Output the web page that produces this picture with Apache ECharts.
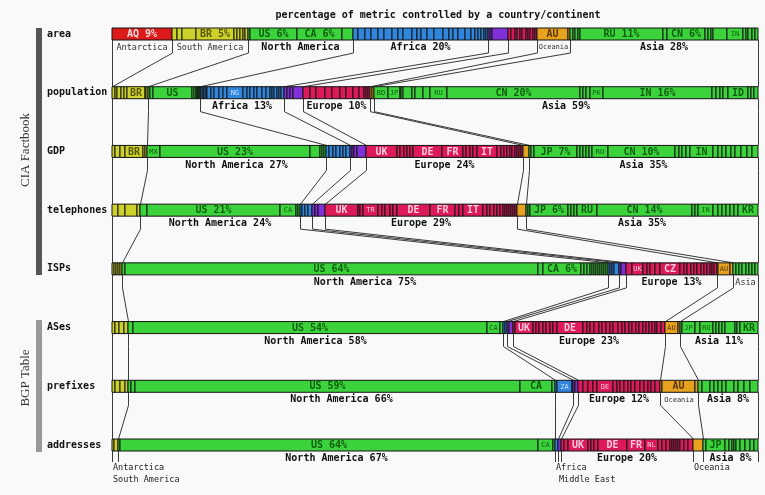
<!DOCTYPE html>
<html><head><meta charset="utf-8">
<script src="https://cdn.jsdelivr.net/npm/echarts@6/dist/echarts.min.js"></script>
<style>html,body{margin:0;padding:0;background:#f9f9f9}#c{width:765px;height:495px}</style>
</head><body><div id="c"></div>
<script>
// ---- DATA (relative shares; each row is normalised to 100%) ----
const rowNames = ['area','population','GDP','telephones','ISPs','ASes','prefixes','addresses'];
const continents = ['Antarctica','South America','North America','Africa','Middle East','Europe','Oceania','Asia'];

// each row: one list per continent (in the order above); number = unlabelled country, [label, value] = labelled country
const area = [
  [['AQ 9%',60]],
  [5,5,14,['BR 5%',38],3,3,3,2,3],
  [2,['US 6%',47],['CA 6%',45],11],
  [5,7,6,7,6,8,6,5,9,5,4,6,7,9,6,4,5,7,6,4,3,3,3,2,2],
  [2,2,16],
  [3,4,2,3,2,4,2,2,3,2,2],
  [['AU',31],2],
  [3,2,3,2,['RU 11%',83],4,['CN 6%',38],3,3,2,14,['IN',16],3,2,4,3,3]
];
const population = [
  [],
  [3,2,4,3,3,['BR',18],1,2],
  [2,3,['US',39],2,2,1,1,1,1],
  [1,2,1,2,1,4,3,5,4,4,['NG',16],4,3,4,3,5,4,4,2,2,3,2,2,3],
  [3,3,3,10],
  [7,6,9,7,8,6,7,6,5,2,2,2],
  [2,2],
  [['BD',14],['JP',12],1,2,9,3,8,7,['RU',17],['CN 20%',133],3,3,4,['PK',13],['IN 16%',109],4,4,3,5,['ID',20],3,3,4]
];
const gdp = [
  [],
  [3,5,5,['BR',18],2,2],
  [['MX',13],['US 23%',150],10,2,2,2],
  [3,4,3,4,3,3,4],
  [2,2,3,9],
  [['UK',31],3,4,3,3,3,['DE',29],['FR',21],3,4,3,4,['IT',20],4,3,3,3,2,3,2,2,2,2],
  [6],
  [2,3,['JP 7%',43],3,3,3,3,3,['RU',16],['CN 10%',67],4,3,4,4,['IN',23],5,4,4,5,4,6,6,5,6]
];
const telephones = [
  [],
  [6,7,12,3],
  [7,['US 21%',133],['CA',16],2,2],
  [2,3,3,4],
  [3,3,7],
  [['UK',33],2,3,['TR',15],4,3,5,3,4,['DE',33],['FR',25],4,4,['IT',20],4,3,4,3,3,3,2,2,2,2,2,2,2],
  [9],
  [2,2,['JP 6%',38],3,3,3,['RU',20],['CN 14%',95],3,3,['IN',15],5,4,4,4,4,4,['KR',20]]
];
const isps = [
  [],
  [2,2,2,2,2],
  [3,['US 64%',413],5,['CA 6%',38],3,3,3,2,2,2,2,2,2,2,2,2],
  [2,2,2,5],
  [2,5],
  [6,['UK',11],4,3,5,5,['CZ',20],4,3,4,3,3,4,3,3,3,2,2,3],
  [1,['AU',12],3],
  [3,3,3,4,3,3,3,3]
];
const ases = [
  [],
  [3,4,5,4],
  [5,['US 54%',354],['CA',13],3],
  [2,2],
  [2,4],
  [2,['UK',18],3,3,4,3,4,3,4,['DE',26],4,3,4,5,3,4,4,3,5,4,3,4,3,4,3,4,3,3,3,3,2,4,4],
  [['AU',13],2],
  [2,['JP',13],5,['RU',13],3,3,3,3,10,2,3,['KR',18]]
];
const prefixes = [
  [],
  [3,5,5,3],
  [3,4,['US 59%',385],['CA',32],3],
  [2,['ZA',15],1],
  [2,3],
  [5,5,5,4,['DE',16],4,3,4,4,3,4,5,4,4,3,4,5],
  [2,['AU',33],3],
  [4,8,4,4,4,4,8,4,6,6,8]
];
const addresses = [
  [],
  [2,4],
  [2,['US 64%',418],['CA',15],2],
  [3],
  [3],
  [3,4,['UK',20],3,3,4,['DE',29],['FR',18],['NL',13],4,4,4,2,2,2,2,2,4,4,5],
  [10],
  [3,['JP',19],4,3,2,2,4,5,5,4,4]
];

// continent labels printed under each row
const areaLabels       = ['Antarctica','South America','North America','Africa 20%','','','Oceania','Asia 28%'];
const populationLabels = ['','','','Africa 13%','','Europe 10%','','Asia 59%'];
const gdpLabels        = ['','','North America 27%','','','Europe 24%','','Asia 35%'];
const telephoneLabels  = ['','','North America 24%','','','Europe 29%','','Asia 35%'];
const ispLabels        = ['','','North America 75%','','','Europe 13%','','Asia'];
const asLabels         = ['','','North America 58%','','','Europe 23%','','Asia 11%'];
const prefixLabels     = ['','','North America 66%','','','Europe 12%','Oceania','Asia 8%'];
const addressLabels    = ['Antarctica','South America','North America 67%','Africa','Middle East','Europe 20%','Oceania','Asia 8%'];

const titleText = 'percentage of metric controlled by a country/continent';

// ---- STYLE ----
const COLORS = ['#dd1a1a','#cdd22a','#3bd23b','#2f86dc','#8030d8','#dc1a5a','#e6a21e','#3bd23b'];
const TEXTC  = ['#ffd8d8','#55560a','#0e5e0e','#c8e0ff','#ead4ff','#ffc8dc','#5a3800','#0e5e0e'];
const MONO = '"DejaVu Sans Mono", monospace';
const GRID_L = 112, GRID_R = 7, GRID_W = 765 - GRID_L - GRID_R;

const ctx = document.createElement('canvas').getContext('2d');
function tw(text, size, weight){ ctx.font = (weight||'normal') + ' ' + size + 'px ' + MONO; return ctx.measureText(text).width; }

// ---- BUILD ----
const rows = [area, population, gdp, telephones, isps, ases, prefixes, addresses];
const rowLabels = [areaLabels, populationLabels, gdpLabels, telephoneLabels, ispLabels, asLabels, prefixLabels, addressLabels];
const segData = [], segLabels = [], bounds = [];
rows.forEach((row, r) => {
  let total = 0;
  row.forEach(g => g.forEach(it => total += (typeof it === 'number' ? it : it[1])));
  let acc = 0; const b = [0];
  row.forEach((g, c) => {
    g.forEach(it => {
      const w = typeof it === 'number' ? it : it[1];
      const s = acc / total * 100; acc += w; const e = acc / total * 100;
      segData.push([s, e, r, c]);
      segLabels.push(typeof it === 'number' ? '' : it[0]);
    });
    b.push(acc / total * 100);
  });
  bounds.push(b);
});

const conData = [];
for (let r = 0; r < rows.length; r++) {
  for (let j = 0; j < 9; j++) {
    if (r < rows.length - 1) conData.push([bounds[r][j], bounds[r+1][j], r, 0]);
    else conData.push([bounds[r][j], bounds[r][j], r, 1]);
  }
}

const labData = [], labInfo = [];
let footK = 0;
rowLabels.forEach((labs, r) => {
  labs.forEach((t, c) => {
    if (!t) return;
    const s = bounds[r][c], e = bounds[r][c+1];
    const wpx = (e - s) / 100 * GRID_W;
    let info;
    if (tw(t, 10, 'bold') + 4 <= wpx) info = {size:10, weight:'bold', foot:false};
    else if (r === rows.length - 1) { info = {size:8.5, weight:'normal', foot:true, k: footK++}; }
    else if (tw(t, 8.5) + 4 <= wpx) info = {size:8.5, weight:'normal', foot:false};
    else info = {size:7, weight:'normal', foot:false};
    info.text = t;
    labData.push([s, e, r, c]);
    labInfo.push(info);
  });
});

// ---- CHART ----
const chart = echarts.init(document.getElementById('c'), null, {renderer:'canvas'});
const crisp = x => Math.round(x) + 0.5;
chart.setOption({
  animation: false,
  backgroundColor: '#f9f9f9',
  grid: {left: GRID_L, right: GRID_R, top: 34, bottom: 50},
  xAxis: {type:'value', min:0, max:100, show:false},
  yAxis: {type:'value', min:0, max:7, interval:1, inverse:true,
    axisLine:{show:false}, axisTick:{show:false}, splitLine:{show:false},
    axisLabel:{formatter: v => rowNames[v] || '', align:'left', margin: GRID_L - 47,
      fontFamily: MONO, fontWeight:'bold', fontSize:10, color:'#111'}},
  graphic: [
    {type:'text', x:438, y:15, style:{text:titleText, align:'center', verticalAlign:'middle', fontFamily:MONO, fontWeight:'bold', fontSize:10, fill:'#111'}},
    {type:'rect', shape:{x:36, y:28, width:6, height:247}, style:{fill:'#555'}},
    {type:'rect', shape:{x:36, y:320, width:6, height:132}, style:{fill:'#999'}},
    {type:'text', x:26, y:150, rotation:Math.PI/2, style:{text:'CIA Factbook', align:'center', verticalAlign:'middle', fontFamily:'"Liberation Serif", "DejaVu Serif", serif', fontSize:13, fill:'#333'}},
    {type:'text', x:26, y:378, rotation:Math.PI/2, style:{text:'BGP Table', align:'center', verticalAlign:'middle', fontFamily:'"Liberation Serif", "DejaVu Serif", serif', fontSize:13, fill:'#333'}}
  ],
  series: [
    { // connectors between continent boundaries
      type:'custom', coordinateSystem:'cartesian2d', z:1,
      encode:{x:[0,1], y:2},
      data: conData,
      renderItem: (params, api) => {
        const r = api.value(2);
        const a = api.coord([api.value(0), r]);
        const ax = crisp(a[0]);
        let pts;
        if (api.value(3) === 1) pts = [[ax, a[1]+6], [ax, a[1]+17]];
        else {
          const b = api.coord([api.value(1), r+1]);
          pts = [[ax, a[1]+6], [ax, a[1]+19], [crisp(b[0]), b[1]-6]];
        }
        return {type:'polyline', shape:{points:pts}, style:{stroke:'#3a3a3a', lineWidth:1, fill:null}};
      }
    },
    { // country segments
      type:'custom', coordinateSystem:'cartesian2d', z:2,
      encode:{x:[0,1], y:2},
      data: segData,
      renderItem: (params, api) => {
        const s = api.value(0), e = api.value(1), r = api.value(2), c = api.value(3);
        const p0 = api.coord([s, r]), p1 = api.coord([e, r]);
        const w = p1[0] - p0[0], y = p0[1];
        const ch = [{type:'rect', shape:{x:p0[0], y:y-6, width:w, height:12},
          style:{fill:COLORS[c], stroke:'#141414', lineWidth:1}}];
        const lab = segLabels[params.dataIndex];
        if (lab) {
          let f = null;
          if (tw(lab, 10, 'bold') + 5 <= w) f = [10, 'bold'];
          else if (tw(lab, 7) + 2 <= w) f = [7, 'normal'];
          if (f) ch.push({type:'text', style:{text:lab, x:p0[0]+w/2, y:y+0.5, align:'center', verticalAlign:'middle',
            fontFamily:MONO, fontSize:f[0], fontWeight:f[1], fill:TEXTC[c]}});
        }
        return {type:'group', children:ch};
      }
    },
    { // continent labels
      type:'custom', coordinateSystem:'cartesian2d', z:3,
      encode:{x:[0,1], y:2},
      data: labData,
      renderItem: (params, api) => {
        const info = labInfo[params.dataIndex];
        const r = api.value(2);
        const p0 = api.coord([api.value(0), r]), p1 = api.coord([api.value(1), r]);
        if (info.foot) {
          return {type:'text', style:{text:info.text, x:p0[0]+1, y:p0[1]+23+(info.k%2)*12, align:'left', verticalAlign:'middle',
            fontFamily:MONO, fontSize:info.size, fontWeight:info.weight, fill:'#222'}};
        }
        return {type:'text', style:{text:info.text, x:(p0[0]+p1[0])/2, y:p0[1]+13.5, align:'center', verticalAlign:'middle',
          fontFamily:MONO, fontSize:info.size, fontWeight:info.weight, fill:info.weight==='bold'?'#111':'#333'}};
      }
    }
  ]
});
</script>
</body></html>
